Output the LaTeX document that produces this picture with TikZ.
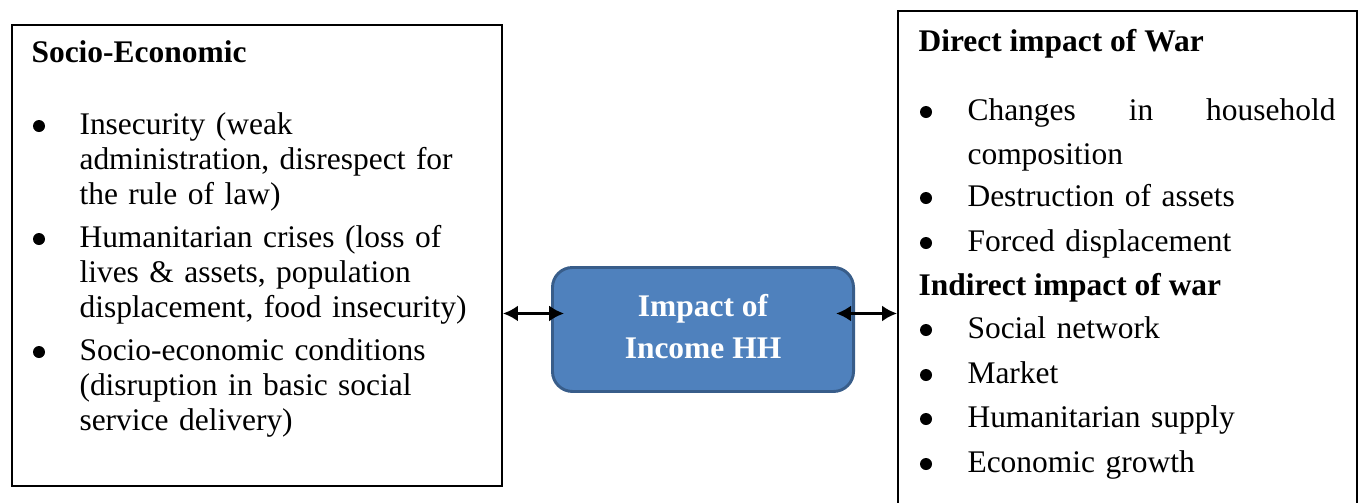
\documentclass[tikz,border=0pt]{standalone}
\usepackage{fontspec}
\setmainfont{Liberation Serif}
\usetikzlibrary{arrows.meta}
\definecolor{impactfill}{RGB}{79,129,189}
\definecolor{impactline}{RGB}{56,93,138}

\begin{document}
\begin{tikzpicture}[x=0.375pt,y=-0.375pt,font=\fontsize{11.8}{13.3}\selectfont,
  frame/.style={draw,line width=0.75pt,anchor=north west,inner sep=0pt},
  bul/.style={circle,fill,inner sep=0pt,minimum size=4.5pt},
  item/.style={anchor=base west,inner sep=0pt,align=left,text width=150pt},
  ritem/.style={item,font=\fontsize{11.8}{16.5}\selectfont},
  head/.style={anchor=base west,inner sep=0pt,font=\fontsize{11.8}{14}\selectfont\bfseries},
  link/.style={{Latex[length=5.6pt,width=6pt]}-{Latex[length=5.6pt,width=6pt]},line width=1pt}]
\newcommand{\lbul}{39}
\newcommand{\ltxt}{79}
\newcommand{\rbul}{926}
\newcommand{\rtxt}{967}

\useasboundingbox (0,0) rectangle (1359,502);
\clip (0,0) rectangle (1359,502);

\node[frame,minimum width=183.75pt,minimum height=172.9pt] (socio) at (11,24) {};
\node[frame,minimum width=172.1pt,minimum height=200pt] (war) at (897,10) {};
\node[draw=impactline,fill=impactfill,line width=1.1pt,rounded corners=7.5pt,anchor=north west,
  minimum width=112.9pt,minimum height=46.5pt,text=white,align=center,text depth=2.5pt,
  font=\fontsize{11.8}{15.75}\selectfont\bfseries] (impact) at (551,266) {Impact of\\Income HH};

\node[head] (sochead) at (31,62) {Socio-Economic};
\node[bul] (lb1) at (\lbul,126) {};
\node[item] (insec) at (\ltxt,134) {Insecurity (weak\\administration, disrespect for\\the rule of law)};
\node[bul] (lb2) at (\lbul,239) {};
\node[item] (crises) at (\ltxt,247) {Humanitarian crises (loss of\\lives \& assets, population\\displacement, food insecurity)};
\node[bul] (lb3) at (\lbul,352) {};
\node[item] (cond) at (\ltxt,360) {Socio-economic conditions\\(disruption in basic social\\service delivery)};

\node[head] (direct) at (918,51) {Direct impact of War};
\node[bul] (rb1) at (\rbul,112) {};
\node[ritem,text width=138pt] (hhcomp) at (\rtxt,120) {Changes\hfill in\hfill household\\composition};
\node[bul] (rb2) at (\rbul,198) {};
\node[ritem] (assets) at (\rtxt,206) {Destruction of assets};
\node[bul] (rb3) at (\rbul,243) {};
\node[ritem] (forced) at (\rtxt,251) {Forced displacement};
\node[head] (indirect) at (918,295) {Indirect impact of war};
\node[bul] (rb4) at (\rbul,330) {};
\node[ritem] (network) at (\rtxt,338) {Social network};
\node[bul] (rb5) at (\rbul,375) {};
\node[ritem] (market) at (\rtxt,383) {Market};
\node[bul] (rb6) at (\rbul,419) {};
\node[ritem] (supply) at (\rtxt,427) {Humanitarian supply};
\node[bul] (rb7) at (\rbul,464) {};
\node[ritem] (growth) at (\rtxt,472) {Economic growth};

\coordinate (ltip) at ([xshift=4.9pt,yshift=6pt]impact.west);
\coordinate (rtip) at ([xshift=-7.1pt,yshift=6pt]impact.east);
\draw[link] (socio.east |- ltip) -- (ltip);
\draw[link] (rtip) -- (war.west |- rtip);
\end{tikzpicture}
\end{document}
